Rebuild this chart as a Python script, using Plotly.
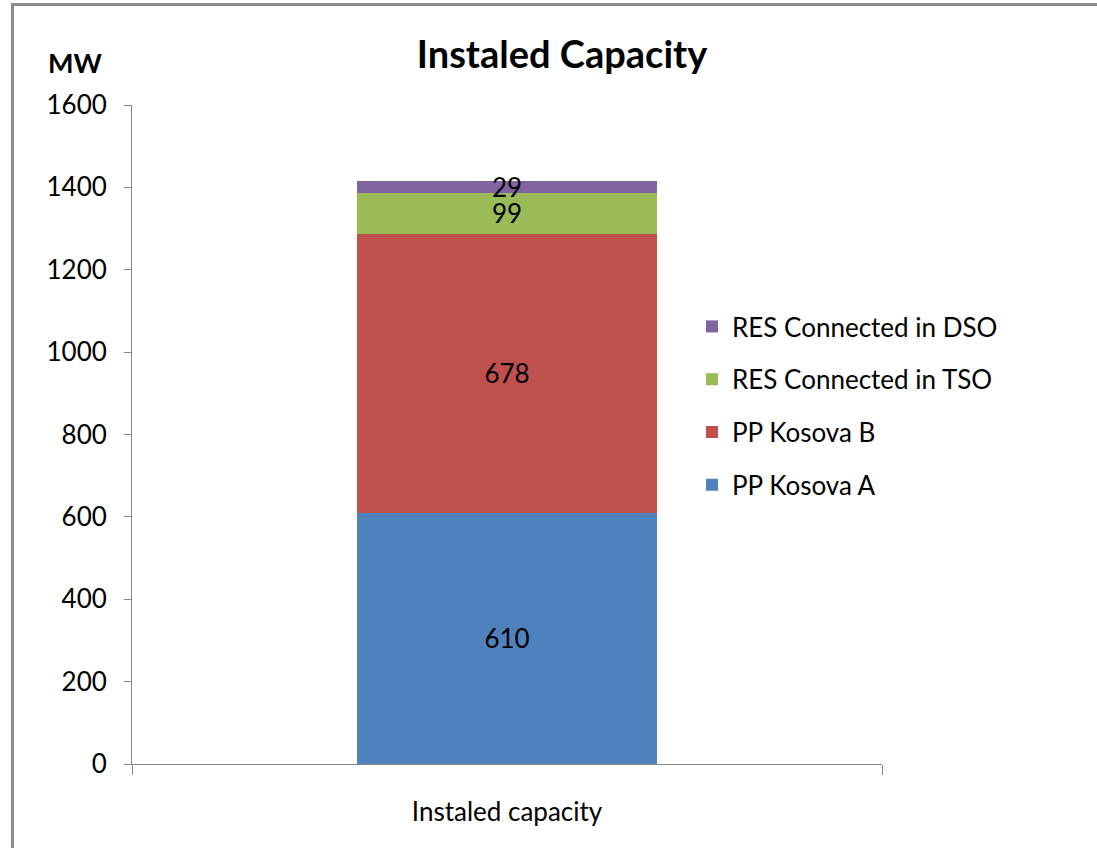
import plotly.graph_objects as go

categories = ["Instaled capacity"]
series_names = ["PP Kosova A", "PP Kosova B", "RES Connected in TSO", "RES Connected in DSO"]
series_values = [[610], [678], [99], [29]]
series_colors = ["#4F81BD", "#C0504D", "#9BBB59", "#8064A2"]
legend_ranks = [4, 3, 2, 1]
y_ticks = [0, 200, 400, 600, 800, 1000, 1200, 1400, 1600]

FONT = "Lato, 'Open Sans', sans-serif"

OFF = 0  # body margin removed via post_script
PL, PR, PT, PB = 132, 882, 105, 764  # plot area in screen pixels


def px_x(sx):
    return (sx - PL) / (PR - PL)


def px_y(sy):
    return (PB - sy) / (PB - PT)


fig = go.Figure()
for name, vals, col, rk in zip(series_names, series_values, series_colors, legend_ranks):
    fig.add_trace(go.Bar(
        x=categories, y=vals, name=name,
        marker=dict(color=col, line=dict(width=0)),
        text=[str(v) for v in vals],
        textposition="inside",
        insidetextanchor="middle",
        textangle=0,
        textfont=dict(family=FONT, size=26, color="black"),
        legendgroup=name,
        legendrank=rk,
    ))

fig.update_layout(
    width=1097, height=848,
    barmode="stack",
    bargap=0.6,
    paper_bgcolor="white",
    plot_bgcolor="white",
    margin=dict(l=PL - OFF, r=1097 - PR + OFF, t=PT - OFF, b=848 - PB + OFF),
    uniformtext=dict(mode="show", minsize=26),
    title=dict(text="<b>Instaled Capacity</b>", x=(562 - OFF) / 1097, xanchor="center",
               y=1 - (55 - OFF) / 848, yanchor="middle",
               font=dict(family=FONT, size=38, color="black")),
    font=dict(family=FONT, color="black"),
    showlegend=True,
    legend=dict(
        x=px_x(692), xanchor="left",
        y=px_y(303), yanchor="top",
        traceorder="grouped",
        tracegroupgap=16,
        font=dict(family=FONT, size=26, color="black"),
        bgcolor="rgba(0,0,0,0)",
        itemwidth=30,
    ),
    xaxis=dict(
        type="category",
        tickson="boundaries",
        ticks="outside", ticklen=10, tickcolor="#868686", tickwidth=1,
        showline=True, linecolor="#868686", linewidth=1,
        showgrid=False,
        tickfont=dict(family=FONT, size=26, color="black"),
        ticklabelstandoff=25,
    ),
    yaxis=dict(
        range=[0, 1600],
        tickvals=y_ticks,
        ticks="outside", ticklen=7, tickcolor="#868686", tickwidth=1,
        showline=True, linecolor="#868686", linewidth=1,
        showgrid=False, zeroline=False,
        tickfont=dict(family=FONT, size=26, color="black"),
        ticklabelstandoff=12,
    ),
    annotations=[dict(
        text="<b>MW</b>", xref="paper", yref="paper",
        x=px_x(46), xanchor="left",
        y=px_y(62), yanchor="middle",
        showarrow=False, font=dict(family=FONT, size=27, color="black"),
    )],
    shapes=[
        dict(type="line", xref="paper", yref="paper",
             x0=px_x(12.5), x1=px_x(12.5), y0=-1.0, y1=px_y(3),
             line=dict(color="#8C8C8C", width=3), layer="below"),
        dict(type="line", xref="paper", yref="paper",
             x0=px_x(11), x1=2.0, y0=px_y(4.5), y1=px_y(4.5),
             line=dict(color="#8C8C8C", width=3), layer="below"),
    ],
)

fig.write_html(
    "out.html",
    config={"displayModeBar": False},
    post_script="document.body.style.margin='0';document.body.style.padding='0';",
)
